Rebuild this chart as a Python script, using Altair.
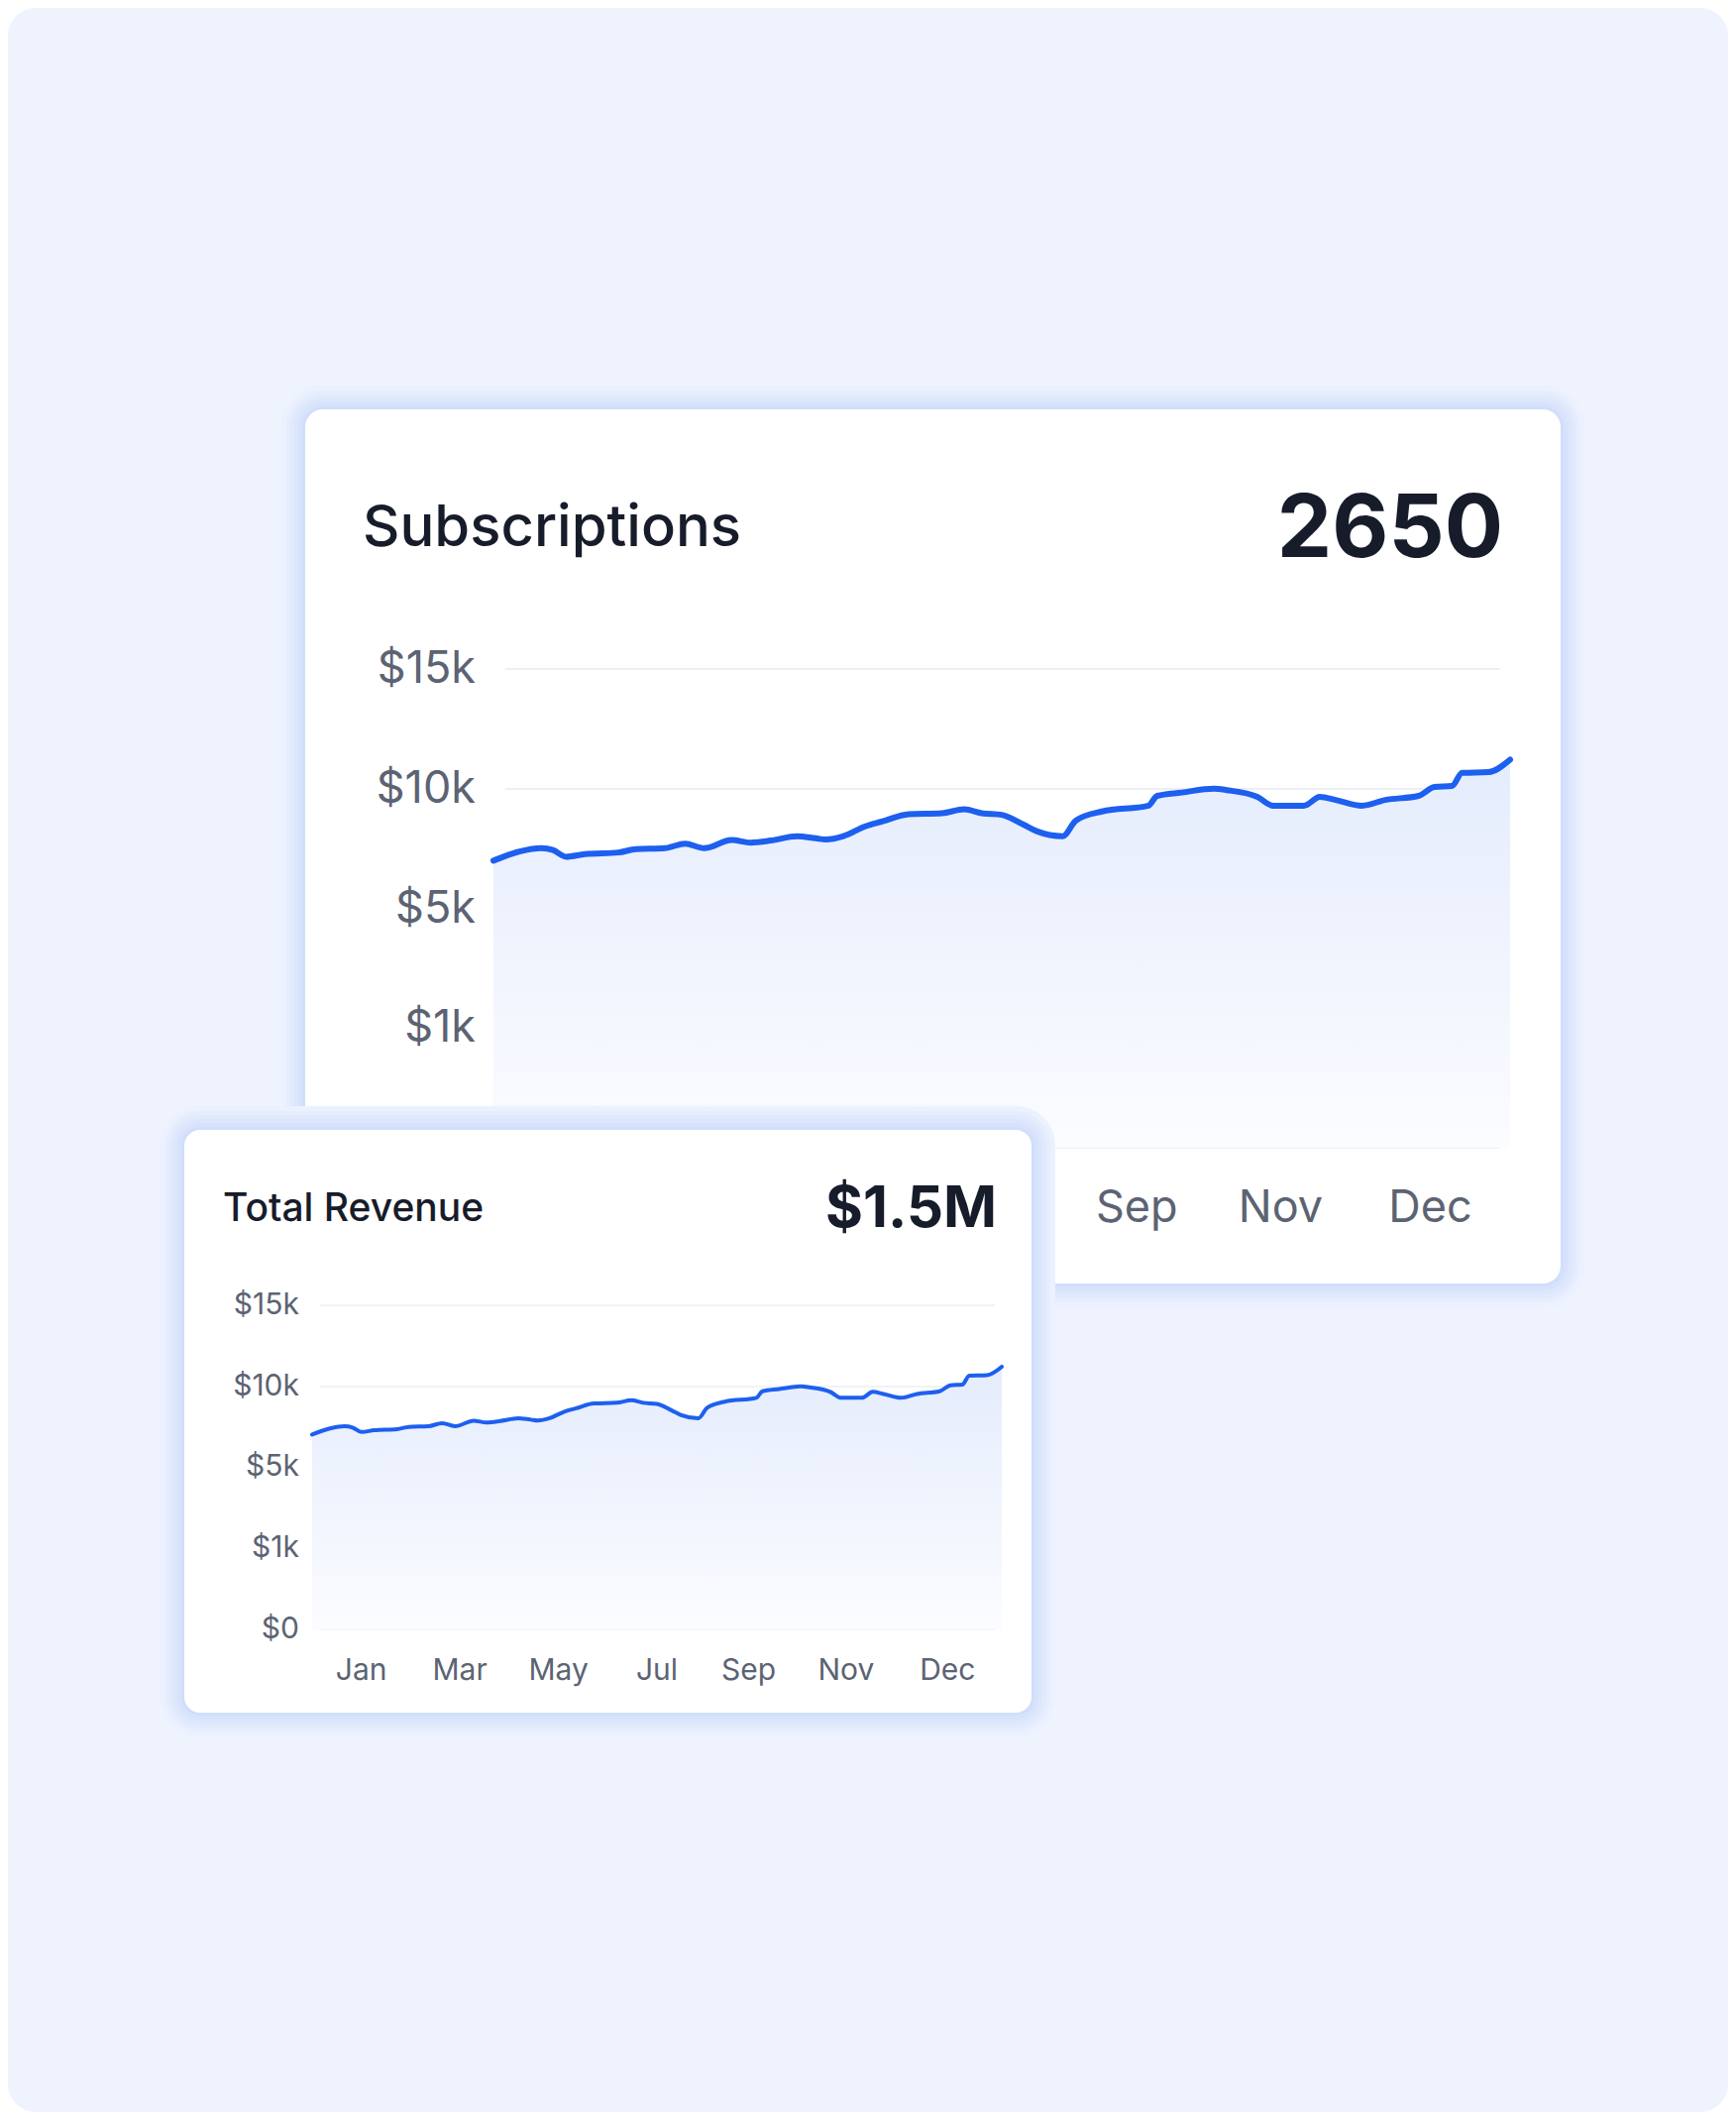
import altair as alt
import pandas as pd

# ---------------- data ----------------
months = ["Jan", "Mar", "May", "Jul", "Sep", "Nov", "Dec"]
month_pos = [0.5, 1.5, 2.5, 3.5, 4.43, 5.42, 6.45]
# the large card's labels for Jan-Jul sit under the small card
big_visible_months = ["Sep", "Nov", "Dec"]
tick_values = [0, 1000, 5000, 10000, 15000]
tick_labels = ["$0", "$1k", "$5k", "$10k", "$15k"]
grid_start = [0.08]
grid_end = [6.93]

period = [0.00, 0.18, 0.33, 0.41, 0.50, 0.63, 0.86, 0.98, 1.18, 1.32, 1.45, 1.64,
          1.77, 1.91, 2.09, 2.22, 2.29, 2.41, 2.56, 2.68, 2.86, 3.09, 3.24, 3.36,
          3.50, 3.65, 3.74, 3.92, 4.01, 4.19, 4.51, 4.57, 4.74, 4.96, 5.05, 5.26,
          5.37, 5.58, 5.69, 5.80, 5.98, 6.14, 6.37, 6.48, 6.60, 6.67, 6.85, 7.00]
amount = [7010, 7390, 7530, 7450, 7170, 7280, 7350, 7490, 7530, 7720, 7530, 7870,
          7760, 7850, 8030, 7940, 7890, 8030, 8440, 8650, 8950, 8990, 9150, 8990,
          8920, 8510, 8240, 8030, 8680, 9060, 9300, 9710, 9850, 10010, 9950, 9670,
          9300, 9300, 9670, 9540, 9300, 9540, 9710, 10080, 10120, 10670, 10700, 11220]

big_title = "Subscriptions"
big_value = "2650"
small_title = "Total Revenue"
small_value = "$1.5M"

series_df = pd.DataFrame({"t": period, "v": amount})
ticks_df = pd.DataFrame({"v": tick_values, "lab": tick_labels})
months_df = pd.DataFrame({"p": month_pos, "m": months})
grid_df = pd.DataFrame({"v": tick_values,
                        "x0": grid_start * len(tick_values),
                        "x1": grid_end * len(tick_values)})
one = pd.DataFrame({"k": [0]})

W, H = 1736, 2123
PAGE_BG = "#EEF3FE"
LINE = "#1D5FEF"
LABEL = "#5C6373"
DARK = "#171C2B"
GRID = "#EDEFF3"
FONT = "Inter"
GLOW = [(24, "#EBF1FE"), (19, "#E6EDFD"), (15, "#E1EAFD"), (11, "#DCE6FC"),
        (7, "#D7E3FC"), (3, "#D1DEFB")]


def rect(x1, x2, y1, y2, fill, r):
    return alt.Chart(one).mark_rect(fill=fill, cornerRadius=r, strokeWidth=0).encode(
        x=alt.value(x1), x2=alt.value(x2), y=alt.value(y1), y2=alt.value(y2))


def card(x1, x2, y1, y2, r):
    layers = [rect(x1 - e, x2 + e, y1 - e, y2 + e, c, r + e) for e, c in GLOW]
    layers.append(rect(x1, x2, y1, y2, "#FFFFFF", r))
    return layers


def text(label, x, y, size, weight, align, color):
    return alt.Chart(pd.DataFrame({"s": [label]})).mark_text(
        font=FONT, fontSize=size, fontWeight=weight, align=align,
        baseline="alphabetic", color=color).encode(
        x=alt.value(x), y=alt.value(y), text="s:N")


def panel(xr, yr, line_w, grid_w, lab_size, ylab_dx, xlab_dy, month_names):
    xs = alt.Scale(domain=[0, 7], range=xr, nice=False, zero=False)
    ys = alt.Scale(domain=tick_values, range=yr, nice=False, zero=False)
    mdf = months_df[months_df["m"].isin(month_names)]
    grid = alt.Chart(grid_df).mark_rule(color=GRID, strokeWidth=grid_w).encode(
        x=alt.X("x0:Q", scale=xs, axis=None), x2="x1:Q",
        y=alt.Y("v:Q", scale=ys, axis=None))
    area = alt.Chart(series_df).mark_area(
        interpolate="monotone",
        color=alt.Gradient(
            gradient="linear",
            stops=[alt.GradientStop(color="#E3EBFC", offset=0),
                   alt.GradientStop(color="#FBFCFF", offset=1)],
            x1=1, x2=1, y1=0, y2=1),
        opacity=0.95).encode(
        x=alt.X("t:Q", scale=xs, axis=None),
        y=alt.Y("v:Q", scale=ys, axis=None),
        y2=alt.Y2(datum=0))
    line = alt.Chart(series_df).mark_line(
        interpolate="monotone", color=LINE, strokeWidth=line_w,
        strokeCap="round", strokeJoin="round").encode(
        x=alt.X("t:Q", scale=xs, axis=None),
        y=alt.Y("v:Q", scale=ys, axis=None))
    ylab = alt.Chart(ticks_df).mark_text(
        font=FONT, fontSize=lab_size, color=LABEL, align="right",
        baseline="middle", dx=-ylab_dx).encode(
        x=alt.X(datum=0, scale=xs, axis=None),
        y=alt.Y("v:Q", scale=ys, axis=None),
        text="lab:N")
    xlab = alt.Chart(mdf).mark_text(
        font=FONT, fontSize=lab_size, color=LABEL, align="center",
        baseline="alphabetic", dy=xlab_dy).encode(
        x=alt.X("p:Q", scale=xs, axis=None),
        y=alt.Y(datum=0, scale=ys, axis=None),
        text="m:N")
    return alt.layer(grid, area, line, ylab, xlab)


# page background
layers = [rect(0, W, 0, H, PAGE_BG, 28)]

# big card
layers += card(300, 1567, 405, 1287, 18)
layers.append(panel([490, 1516], [1150, 1029, 909, 788, 667], 6, 2, 45, 18, 75,
                    big_visible_months))
layers.append(text(big_title, 358, 543, 58, 500, "left", DARK))
layers.append(text(big_value, 1509, 554, 88, 700, "right", DARK))

# small card
layers += card(178, 1033, 1132, 1720, 16)
layers.append(panel([307, 1003], [1636, 1554, 1472, 1391, 1309], 4, 1.5, 30, 13, 51,
                    months))
layers.append(text(small_title, 217, 1224, 39, 500, "left", DARK))
layers.append(text(small_value, 998, 1230, 58, 700, "right", DARK))

chart = alt.layer(*layers).resolve_scale(x="independent", y="independent").properties(
    width=W, height=H, padding=0,
    autosize=alt.AutoSizeParams(type="none"),
    background="white",
).configure_view(strokeWidth=0)

chart.save("out.html", embed_options={"renderer": "svg", "actions": False})
